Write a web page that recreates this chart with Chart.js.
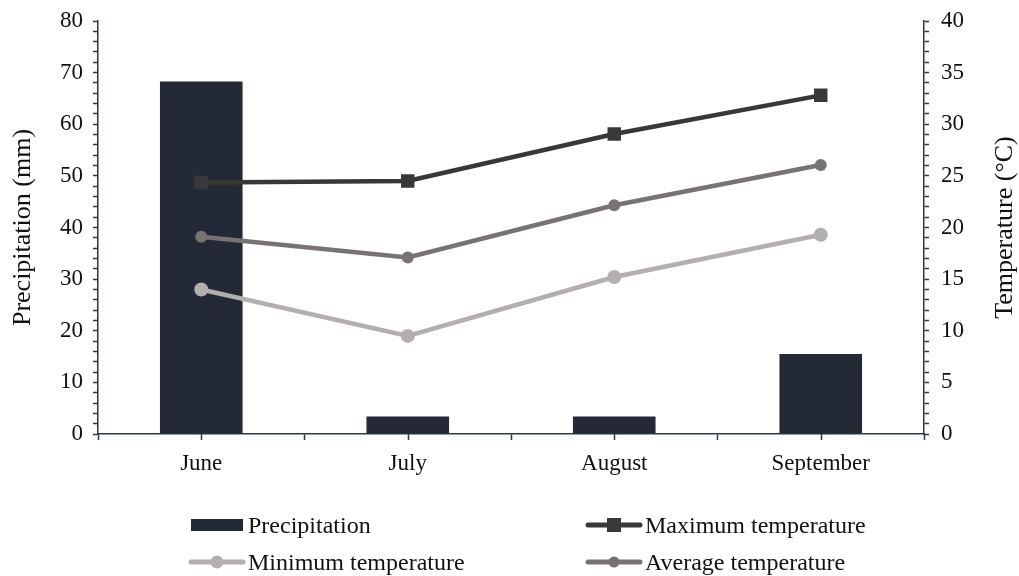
<!DOCTYPE html>
<html>
<head>
<meta charset="utf-8">
<script src="https://cdn.jsdelivr.net/npm/chart.js@4"></script>
<style>
  html, body { margin: 0; padding: 0; background: #fff; }
  #wrap { position: relative; width: 1019px; height: 576px; }
  #legend { position: absolute; left: 0; top: 0; width: 1019px; height: 576px; pointer-events: none;
            font-family: "Liberation Serif", "Times New Roman", serif; font-size: 24px; color: #111; }
  .item { position: absolute; display: flex; align-items: center; height: 30px; white-space: nowrap; }
  .item canvas { margin-right: 2px; }
</style>
</head>
<body>
<div id="wrap">
  <canvas id="c" width="1019" height="576"></canvas>
  <div id="legend"></div>
</div>
<script>
const months = ['June', 'July', 'August', 'September'];
const precipitation = [68.3, 3.4, 3.4, 15.5];
const maxTemp = [24.35, 24.5, 29.05, 32.8];
const minTemp = [14.0, 9.5, 15.2, 19.3];
const avgTemp = [19.1, 17.1, 22.15, 26.05];
const leftTitle = 'Precipitation (mm)';
const rightTitle = 'Temperature (°C)';

const AXIS = '#2f3744';
const FONT = '"Liberation Serif", "Times New Roman", serif';

const centerTicks = {
  id: 'centerTicks',
  afterDraw(chart) {
    const x = chart.scales.x, ctx = chart.ctx, b = chart.chartArea.bottom;
    ctx.save();
    ctx.strokeStyle = AXIS; ctx.lineWidth = 1.5;
    months.forEach((m, i) => {
      const px = Math.round(x.getPixelForValue(i)) + 0.5;
      ctx.beginPath(); ctx.moveTo(px, b); ctx.lineTo(px, b + 6); ctx.stroke();
    });
    // right axis title (reads bottom-to-top)
    const ca = chart.chartArea;
    ctx.translate(1005, (ca.top + ca.bottom) / 2);
    ctx.rotate(-Math.PI / 2);
    ctx.font = '26px ' + FONT;
    ctx.fillStyle = '#111';
    ctx.textAlign = 'center'; ctx.textBaseline = 'middle';
    ctx.fillText(rightTitle, 0, 0);
    ctx.restore();
  }
};

const chart = new Chart(document.getElementById('c'), {
  data: {
    labels: months,
    datasets: [
      { type: 'bar', label: 'Precipitation', data: precipitation, yAxisID: 'y',
        backgroundColor: '#232a35', barPercentage: 0.4, categoryPercentage: 1, order: 2 },
      { type: 'line', label: 'Maximum temperature', data: maxTemp, yAxisID: 'y1',
        borderColor: '#3a3836', backgroundColor: '#3a3836', borderWidth: 4.5,
        pointStyle: 'rect', pointRadius: 9.5, pointHoverRadius: 9.5, pointBorderWidth: 0, order: 1 },
      { type: 'line', label: 'Minimum temperature', data: minTemp, yAxisID: 'y1',
        borderColor: '#b3afae', backgroundColor: '#b3afae', borderWidth: 4.5,
        pointStyle: 'circle', pointRadius: 7, pointHoverRadius: 7, pointBorderWidth: 0, order: 1 },
      { type: 'line', label: 'Average temperature', data: avgTemp, yAxisID: 'y1',
        borderColor: '#777372', backgroundColor: '#777372', borderWidth: 4.5,
        pointStyle: 'circle', pointRadius: 6, pointHoverRadius: 6, pointBorderWidth: 0, order: 1 }
    ]
  },
  options: {
    responsive: false,
    animation: false,
    layout: { padding: { top: 21, left: 0, right: 0, bottom: 0 } },
    plugins: { legend: { display: false }, tooltip: { enabled: false } },
    scales: {
      x: {
        type: 'category',
        offset: true,
        grid: { offset: true, drawOnChartArea: false, tickLength: 6, tickColor: AXIS, tickWidth: 1.5 },
        border: { color: AXIS, width: 1.5 },
        ticks: { color: '#111', font: { family: FONT, size: 23 }, padding: 10, maxRotation: 0 },
        afterFit(s) { s.height = 142; s.paddingLeft = 0; s.paddingRight = 0; }
      },
      y: {
        position: 'left', min: 0, max: 80,
        grid: { drawOnChartArea: false, tickLength: 5, tickColor: AXIS, tickWidth: 1.5 },
        border: { color: AXIS, width: 1.5 },
        ticks: { stepSize: 2, autoSkip: false, color: '#111', font: { family: FONT, size: 23 }, padding: 10,
                 callback: v => (v % 10 === 0 ? String(v) : '') },
        title: { display: true, text: leftTitle, color: '#111', font: { family: FONT, size: 26 }, padding: { top: 8, bottom: 0 } },
        afterFit(s) { s.width = 98; s.paddingTop = 0; s.paddingBottom = 0; }
      },
      y1: {
        position: 'right', min: 0, max: 40,
        grid: { drawOnChartArea: false, tickLength: 5, tickColor: AXIS, tickWidth: 1.5 },
        border: { color: AXIS, width: 1.5 },
        ticks: { stepSize: 1, autoSkip: false, color: '#111', font: { family: FONT, size: 23 }, padding: 12,
                 callback: v => (v % 5 === 0 ? String(v) : '') },
        afterFit(s) { s.width = 95; s.paddingTop = 0; s.paddingBottom = 0; }
      }
    }
  },
  plugins: [centerTicks]
});

// HTML legend built from the chart's datasets
const legendPos = [
  { left: 188, top: 510 }, // Precipitation
  { left: 585, top: 510 }, // Maximum temperature
  { left: 188, top: 547 }, // Minimum temperature
  { left: 585, top: 547 }  // Average temperature
];
const legendEl = document.getElementById('legend');
chart.data.datasets.forEach((ds, i) => {
  const item = document.createElement('div');
  item.className = 'item';
  item.style.left = legendPos[i].left + 'px';
  item.style.top = legendPos[i].top + 'px';
  const cv = document.createElement('canvas');
  cv.width = 58; cv.height = 30;
  const g = cv.getContext('2d');
  if (ds.type === 'bar') {
    g.fillStyle = ds.backgroundColor;
    g.fillRect(3, 9, 52, 12);
  } else {
    g.strokeStyle = ds.borderColor; g.lineWidth = 5; g.lineCap = 'round';
    g.beginPath(); g.moveTo(3, 15); g.lineTo(55, 15); g.stroke();
    g.fillStyle = ds.backgroundColor;
    if (ds.pointStyle === 'rect') { g.fillRect(22, 8, 14, 14); }
    else { g.beginPath(); g.arc(29, 15, ds.pointRadius - 0.5, 0, Math.PI * 2); g.fill(); }
  }
  const t = document.createElement('span');
  t.textContent = ds.label;
  item.appendChild(cv); item.appendChild(t);
  legendEl.appendChild(item);
});
</script>
</body>
</html>
